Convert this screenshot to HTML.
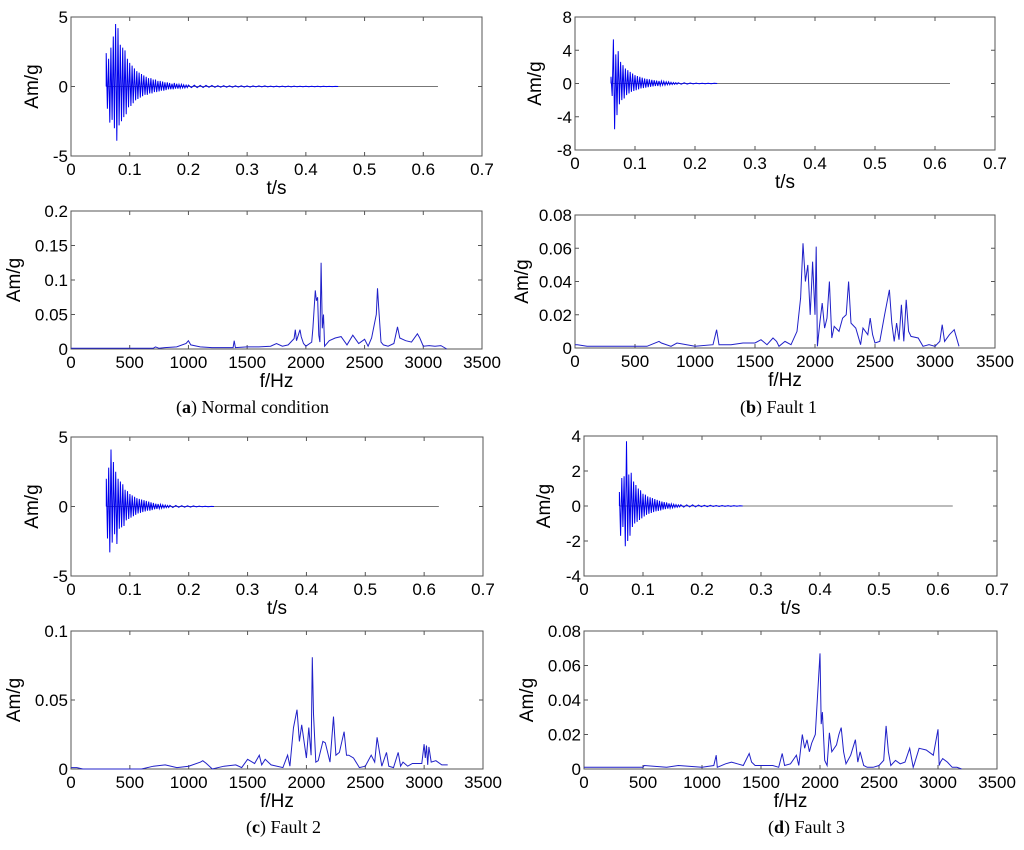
<!DOCTYPE html>
<html><head><meta charset="utf-8"><style>
body{margin:0;background:#fff;width:1024px;height:850px;overflow:hidden}
svg{position:absolute;left:0;top:0}
text{font-family:"Liberation Sans",sans-serif;fill:#000}
.cap{font-family:"Liberation Serif",serif;font-size:18px}
</style></head><body>
<svg id="fig" width="1024" height="850"></svg>
<script>
// ---- time-domain burst samples (dt=0.002 s from 0.06 s) and tails (dt=0.005 s) ----
const burstA=[2.4,-1.6,2.0,-2.6,2.8,-2.4,3.6,-3.0,4.5,-3.9,4.2,-2.8,3.0,-2.5,2.8,-2.2,2.6,-2.0,2.0,-1.5,1.7,-1.4,1.5,-1.2,1.3,-1.0,1.1,-0.9,1.0,-0.8,0.9,-0.7,0.8,-0.6,0.7,-0.6,0.6,-0.5,0.6,-0.5,0.5,-0.4,0.5,-0.4,0.4,-0.35,0.4,-0.3,0.35,-0.3,0.3,-0.25,0.3,-0.2,0.25,-0.2,0.2,-0.2,0.25,-0.15,0.2,-0.15,0.15,-0.12,0.15,-0.1,0.12,-0.1,0.1,-0.08];
const tailA=[0.1,-0.08,0.09,-0.08,0.08,-0.07,0.08,-0.06,0.07,-0.06,0.06,-0.05,0.06,-0.05,0.05,-0.05,0.05,-0.04,0.05,-0.04,0.04,-0.04,0.04,-0.03,0.04,-0.03,0.04,-0.03,0.03,-0.03,0.03,-0.03,0.03,-0.02,0.03,-0.02,0.03,-0.02,0.02,-0.02,0.02,-0.02,0.02,-0.02,0.02,-0.02,0.02,-0.01,0.01,-0.01,0.01,0];
const burstB=[0.8,-1.5,5.3,-5.5,3.5,-3.8,3.9,-2.5,2.6,-2.0,2.2,-1.8,1.8,-1.4,1.6,-1.2,1.4,-1.0,1.2,-0.9,1.0,-0.8,0.9,-0.7,0.8,-0.6,0.7,-0.55,0.6,-0.5,0.55,-0.45,0.5,-0.4,0.45,-0.35,0.4,-0.3,0.35,-0.3,0.3,-0.25,0.3,-0.2,0.25,-0.2,0.2,-0.15,0.2,-0.15,0.15,-0.12,0.12,-0.1,0.1,-0.08];
const tailB=[0.1,-0.08,0.08,-0.07,0.06,-0.05,0.05,-0.04,0.04,-0.03,0.03,-0.02,0.02,0];
const burstC=[2.0,-2.3,2.8,-3.3,4.1,-2.6,3.2,-2.0,2.5,-2.7,2.0,-1.6,1.8,-1.5,1.6,-1.4,1.2,-1.0,1.1,-0.9,0.9,-0.8,0.8,-0.7,0.7,-0.6,0.6,-0.5,0.55,-0.45,0.5,-0.4,0.45,-0.35,0.4,-0.3,0.35,-0.3,0.3,-0.25,0.25,-0.2,0.2,-0.18,0.18,-0.15,0.15,-0.12,0.12,-0.1,0.1,-0.08,0.08,-0.07];
const tailC=[0.08,-0.07,0.07,-0.06,0.06,-0.05,0.05,-0.04,0.04,-0.03,0.03,-0.02,0.02,-0.02,0.01,0];
const burstD=[0.8,-1.7,1.6,-1.2,1.7,-2.3,3.7,-2.0,1.8,-1.7,1.9,-1.2,1.4,-1.0,1.2,-0.9,1.0,-0.8,0.9,-0.7,0.7,-0.6,0.65,-0.5,0.55,-0.45,0.5,-0.4,0.45,-0.35,0.4,-0.3,0.35,-0.28,0.3,-0.25,0.25,-0.2,0.22,-0.18,0.2,-0.15,0.15,-0.12,0.12,-0.1,0.1,-0.08,0.08,-0.07,0.06,-0.05];
const tailD=[0.07,-0.06,0.06,-0.05,0.06,-0.05,0.05,-0.04,0.04,-0.04,0.04,-0.03,0.03,-0.03,0.03,-0.02,0.02,-0.02,0.02,-0.01,0.01,0];
// ---- spectra (frequency breakpoints Hz, amplitude) ----
const freqA=[0,700,720,750,800,900,980,1000,1020,1100,1200,1380,1390,1400,1500,1600,1700,1750,1800,1850,1900,1910,1920,1950,1960,1980,2000,2050,2060,2080,2090,2100,2110,2120,2130,2140,2150,2160,2200,2250,2300,2350,2400,2450,2500,2530,2560,2600,2610,2620,2640,2660,2700,2750,2780,2800,2850,2900,2950,2970,3000,3050,3100,3150,3200];
const ampA=[0.001,0.001,0.003,0.001,0.002,0.003,0.008,0.012,0.006,0.003,0.002,0.002,0.012,0.002,0.003,0.003,0.004,0.008,0.004,0.006,0.015,0.028,0.012,0.028,0.018,0.008,0.004,0.01,0.03,0.085,0.07,0.075,0.02,0.01,0.125,0.03,0.05,0.004,0.012,0.016,0.018,0.006,0.02,0.008,0.014,0.004,0.016,0.05,0.088,0.06,0.01,0.006,0.004,0.008,0.032,0.016,0.012,0.01,0.022,0.016,0.004,0.005,0.004,0.005,0];
const freqB=[0,20,100,600,700,720,800,850,1000,1150,1170,1180,1200,1300,1400,1500,1550,1600,1650,1680,1700,1750,1800,1850,1880,1900,1920,1940,1960,1970,1980,2000,2010,2020,2040,2060,2080,2100,2120,2140,2160,2200,2230,2260,2280,2300,2340,2380,2400,2440,2460,2480,2500,2540,2580,2620,2640,2660,2680,2700,2720,2740,2760,2780,2800,2860,2900,2950,3000,3040,3060,3080,3120,3160,3200];
const ampB=[0.002,0.002,0.001,0.001,0.004,0.003,0.001,0.003,0.001,0.002,0.008,0.011,0.002,0.002,0.003,0.003,0.005,0.002,0.006,0.004,0.001,0.004,0.002,0.01,0.03,0.063,0.04,0.05,0.02,0.035,0.052,0.02,0.061,0.001,0.015,0.027,0.012,0.018,0.04,0.006,0.013,0.01,0.018,0.02,0.04,0.015,0.012,0.002,0.012,0.008,0.018,0.008,0.003,0.004,0.02,0.035,0.015,0.004,0.015,0.005,0.026,0.004,0.029,0.01,0.007,0.006,0.001,0.002,0.001,0.004,0.014,0.004,0.008,0.011,0.001];
const freqC=[0,50,100,600,700,800,900,1000,1100,1120,1150,1200,1300,1400,1450,1500,1560,1600,1620,1650,1700,1800,1840,1860,1890,1920,1940,1960,2000,2020,2040,2050,2060,2080,2100,2140,2160,2200,2230,2250,2280,2320,2340,2360,2400,2450,2500,2550,2580,2600,2640,2680,2700,2740,2780,2800,2820,2860,2900,2980,3000,3010,3020,3030,3040,3060,3100,3150,3200];
const ampC=[0.001,0.001,0,0,0.002,0.003,0.001,0.002,0.005,0.006,0.004,0,0.002,0.003,0.001,0.007,0.004,0.01,0.003,0.007,0.003,0.001,0.01,0.002,0.03,0.043,0.02,0.032,0.008,0.03,0.01,0.081,0.04,0.005,0.006,0.02,0.019,0.005,0.038,0.01,0.012,0.027,0.01,0.01,0.008,0.001,0.002,0.01,0.005,0.023,0.002,0.012,0.002,0.001,0.012,0.002,0.005,0.002,0.004,0.004,0.018,0.008,0.017,0.003,0.016,0.005,0.006,0.003,0.003];
const freqD=[0,500,510,700,800,1000,1100,1120,1130,1200,1250,1300,1350,1400,1420,1450,1500,1600,1650,1680,1700,1750,1800,1820,1850,1870,1890,1910,1930,1960,2000,2010,2020,2040,2060,2080,2100,2140,2160,2180,2200,2220,2260,2300,2320,2340,2370,2400,2450,2500,2540,2560,2580,2600,2640,2680,2720,2760,2790,2800,2840,2900,2960,3000,3010,3020,3040,3080,3120,3160,3200];
const ampD=[0.001,0.001,0.002,0.001,0.002,0.001,0.002,0.008,0.001,0.003,0.004,0.003,0.002,0.009,0.004,0.002,0.002,0.002,0.001,0.009,0.002,0.003,0.008,0.002,0.02,0.012,0.017,0.01,0.015,0.02,0.067,0.026,0.033,0.005,0.002,0.021,0.01,0.014,0.02,0.024,0.01,0.003,0.008,0.017,0.004,0.01,0.002,0.001,0.001,0.002,0.005,0.025,0.01,0.002,0.005,0.003,0.004,0.012,0.001,0.003,0.012,0.011,0.008,0.023,0.002,0.004,0.006,0.004,0.001,0.001,0];
// ---- tick labels ----
const tTicks=["0","0.1","0.2","0.3","0.4","0.5","0.6","0.7"];
const fTicks=["0","500","1000","1500","2000","2500","3000","3500"];
const yTimeA=["-5","0","5"], yTimeB=["-8","-4","0","4","8"], yTimeC=["-5","0","5"], yTimeD=["-4","-2","0","2","4"];
const ySpecA=["0","0.05","0.1","0.15","0.2"], ySpecB=["0","0.02","0.04","0.06","0.08"], ySpecC=["0","0.05","0.1"], ySpecD=["0","0.02","0.04","0.06","0.08"];

const NS='http://www.w3.org/2000/svg', svg=document.getElementById('fig');
function mk(tag,attrs,parent){const e=document.createElementNS(NS,tag);for(const k in attrs)e.setAttribute(k,attrs[k]);(parent||svg).appendChild(e);return e;}

function axes(name,x0,x1,y0,y1,xmax,xt,ymin,ymax,yt,xlabel,ylx){
  const g=mk('g',{});
  
  
  const sx=v=>x0+(v/xmax)*(x1-x0), sy=v=>y1-(v-ymin)/(ymax-ymin)*(y1-y0);
  const box=mk('rect',{x:x0,y:y0,width:x1-x0,height:y1-y0,fill:'none',stroke:'#555','stroke-width':1},g);
  
  
  xt.forEach((l,i)=>{const v=i*xmax/(xt.length-1),x=sx(v);
    mk('line',{x1:x,x2:x,y1:y1,y2:y1-4,stroke:'#555'},g);mk('line',{x1:x,x2:x,y1:y0,y2:y0+4,stroke:'#555'},g);
    const t=mk('text',{x:x,y:y1+19,'text-anchor':'middle','font-size':17},g);t.textContent=l;
    
    });
  yt.forEach((l,i)=>{const v=ymin+i*(ymax-ymin)/(yt.length-1),y=sy(v);
    mk('line',{x1:x0,x2:x0+4,y1:y,y2:y,stroke:'#555'},g);mk('line',{x1:x1,x2:x1-4,y1:y,y2:y,stroke:'#555'},g);
    const t=mk('text',{x:x0-3,y:y+6,'text-anchor':'end','font-size':17},g);t.textContent=l;
    
    });
  const xl=mk('text',{x:(x0+x1)/2,y:y1+38,'text-anchor':'middle','font-size':19},g);xl.textContent=xlabel;
  
  
  const yc=(y0+y1)/2;
  const yl=mk('text',{x:ylx,y:yc,'text-anchor':'middle','font-size':19,transform:`rotate(-90 ${ylx} ${yc})`},g);yl.textContent='Am/g';
  
  
  return {g,sx,sy};
}
function timePanel(name,x0,x1,y0,y1,ymax,yt,burst,tail,ylx){
  const a=axes(name,x0,x1,y0,y1,0.7,tTicks,-ymax,ymax,yt,'t/s',ylx);
  const zl=mk('line',{x1:a.sx(0.06),x2:a.sx(0.625),y1:a.sy(0),y2:a.sy(0),stroke:'#777','stroke-width':1},a.g);
  
  
  let pts=[[0.06,0]];
  burst.forEach((v,i)=>pts.push([0.06+i*0.002,v]));
  const t0=0.06+burst.length*0.002;
  tail.forEach((v,i)=>pts.push([t0+i*0.005,v]));
  const p=mk('polyline',{points:pts.map(q=>a.sx(q[0]).toFixed(1)+','+a.sy(q[1]).toFixed(1)).join(' '),fill:'none',stroke:'#0000ee','stroke-width':1},a.g);
  
  
}
function specPanel(name,x0,x1,y0,y1,ymax,yt,fr,am,ylx){
  const a=axes(name,x0,x1,y0,y1,3500,fTicks,0,ymax,yt,'f/Hz',ylx);
  const n=Math.min(fr.length,am.length);const pts=[];
  for(let i=0;i<n;i++)pts.push(a.sx(fr[i]).toFixed(1)+','+a.sy(am[i]).toFixed(1));
  const p=mk('polyline',{points:pts.join(' '),fill:'none',stroke:'#2020c8','stroke-width':1},a.g);
  
  
}
timePanel('panel-a-time',71,482,17,156,5,yTimeA,burstA,tailA,38);
specPanel('panel-a-spectrum',71,482,211,349,0.2,ySpecA,freqA,ampA,20);
timePanel('panel-b-time',575,995,17,150,8,yTimeB,burstB,tailB,541);
specPanel('panel-b-spectrum',575,995,215,348,0.08,ySpecB,freqB,ampB,528);
timePanel('panel-c-time',71,483,437,576,5,yTimeC,burstC,tailC,38);
specPanel('panel-c-spectrum',71,483,631,769,0.1,ySpecC,freqC,ampC,20);
timePanel('panel-d-time',584,997,436,576,4,yTimeD,burstD,tailD,550);
specPanel('panel-d-spectrum',584,997,631,769,0.08,ySpecD,freqD,ampD,533);
</script>
<div class="cap" style="position:absolute;left:176px;top:397px">(<b>a</b>) Normal condition</div>
<div class="cap" style="position:absolute;left:740px;top:397px">(<b>b</b>) Fault 1</div>
<div class="cap" style="position:absolute;left:246px;top:817px">(<b>c</b>) Fault 2</div>
<div class="cap" style="position:absolute;left:768px;top:817px">(<b>d</b>) Fault 3</div>
</body></html>
